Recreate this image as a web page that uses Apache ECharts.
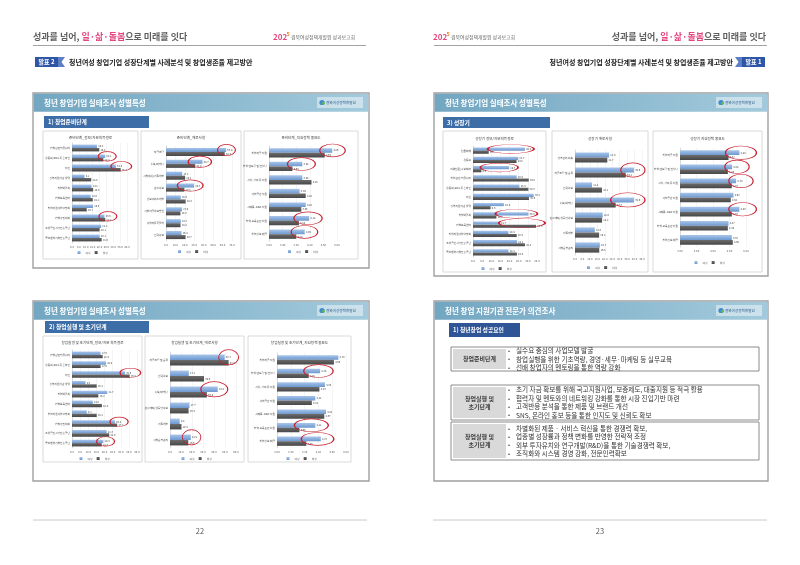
<!DOCTYPE html>
<html>
<head>
<meta charset="utf-8">
<script src="https://cdn.jsdelivr.net/npm/echarts@6/dist/echarts.min.js"></script>
<style>
  html, body { margin: 0; padding: 0; background: #fff; }
  #chart { width: 800px; height: 565px; }
</style>
</head>
<body>
<div id="chart"></div>
<script>
const FONT = '"Noto Sans CJK KR", "Noto Sans", sans-serif';

// 1) 창업준비단계
const prepInfoCats = ['창업관련커뮤니티', '유튜브/SNS 등 온라인', '지인', '정부지원기관 상담', '창업박람회', '창업보육센터', '창업지원사업설명회', '창업경진대회', '소상공인시장진흥공단', '중소벤처기업진흥공단'];
const prepInfoF = [18.2, 24.1, 31.9, 9.1, 14.2, 13.6, 15.3, 23.6, 21.2, 20.1];
const prepInfoM = [19.8, 22.8, 35.4, 14.0, 15.4, 15.1, 10.7, 24.2, 20.1, 21.6];
const prepInfoMarks = [1, 2, 7];

const prepHardCats = ['자금조달', '홍보/마케팅', '사업계획/기술개발', '판로확보', '정보서비스개발', '사업자금확보방안', '사업자등록절차', '인력확보'];
const prepHardF = [63.8, 38.7, 17.2, 29.7, 15.6, 17.0, 15.7, 16.4];
const prepHardM = [62.3, 31.0, 20.2, 19.5, 20.8, 15.3, 15.4, 20.7];
const prepHardMarks = [0, 1, 3];

const policyCats = ['창업자금 지원', '창업 멘토링 및 컨설팅', '시설, 장비 등 지원', '사업공간 지원', '시제품·R&D 지원', '창업 교육훈련 지원', '창업정보 제공'];
const prepPolicyF = [4.86, 3.98, 3.98, 3.90, 4.08, 4.18, 4.05];
const prepPolicyM = [4.64, 3.69, 4.25, 4.08, 3.95, 3.88, 3.80];
const prepPolicyMarks = [0, 1, 5, 6];

// 3) 성장기
const growInfoCats = ['언론매체', '유튜브', '지역신문/홍보책자', '창업관련 커뮤니티', '유튜브/SNS 등 온라인', '지인', '정부지원기관 상담', '창업박람회', '창업보육센터', '창업지원사업설명회', '소상공인시장진흥공단', '중소벤처기업진흥공단'];
const growInfoF = [28.4, 24.7, 19.7, 23.9, 25.4, 33.2, 16.9, 30.3, 14.7, 19.4, 24.1, 19.4];
const growInfoM = [8.6, 23.8, 4.6, 30.5, 30.3, 30.6, 9.6, 12.8, 34.5, 23.9, 28.4, 24.0];
const growInfoMarks = [0, 2, 7, 8];

const growHardCats = ['경영관리 미숙', '자금조달 및 운용', '인력확보', '홍보/마케팅', '판로개척/유통망확보', '기술개발', '사업운영관리'];
const growHardF = [22.9, 39.6, 11.4, 39.6, 18.6, 13.3, 16.7];
const growHardM = [21.7, 34.1, 18.1, 27.3, 18.2, 16.2, 16.3];
const growHardMarks = [1, 3];

const growPolicyF = [4.80, 4.58, 4.70, 4.62, 4.80, 4.47, 4.57];
const growPolicyM = [4.47, 4.45, 4.57, 4.54, 4.57, 4.45, 4.60];
const growPolicyMarks = [0, 1, 2, 4];

// 2) 창업실행 및 초기단계
const earlyInfoF = [17.6, 20.9, 32.6, 8.3, 21.7, 12.8, 9.1, 26.4, 21.3, 19.3];
const earlyInfoM = [18.9, 17.6, 35.5, 15.2, 16.2, 18.4, 15.2, 27.8, 22.9, 18.3];
const earlyInfoMarks = [2, 7, 9];

const earlyHardCats = ['자금조달 및 운용', '인력확보', '홍보/마케팅', '판로개척/유통망확보', '기술개발', '사업운영관리'];
const earlyHardF = [49.7, 17.1, 43.4, 17.7, 8.8, 18.9];
const earlyHardM = [53.3, 30.9, 33.5, 16.9, 10.4, 16.6];
const earlyHardMarks = [0, 2, 5];

const earlyPolicyF = [4.78, 4.25, 4.39, 4.11, 4.42, 4.11, 4.27];
const earlyPolicyM = [4.65, 3.92, 4.23, 4.01, 4.37, 3.65, 3.85];
const earlyPolicyMarks = [1, 5, 6];

// 전문가 의견조사 표
const tipPrep = ['실수요 중심의 사업모델 발굴', '창업실행을 위한 기초역량, 경영·세무·마케팅 등 실무교육', '선배 창업자의 멘토링을 통한 역량 강화'];
const tipEarly = ['초기 자금 확보를 위해 국고지원사업, 보증제도, 대출지원 등 적극 활용', '협력자 및 멘토와의 네트워킹 강화를 통한 시장 진입기반 마련', '고객반응 분석을 통한 제품 및 브랜드 개선', 'SNS, 온라인 홍보 등을 통한 인지도 및 신뢰도 확보'];
const tipGrow = ['차별화된 제품 · 서비스 혁신을 통한 경쟁력 확보,', '업종별 성장률과 정책 변화를 반영한 전략적 조정', '외부 투자유치와 연구개발(R&D)을 통한 기술경쟁력 확보,', '조직화와 시스템 경영 강화, 전문인력확보'];

const legendNames = ['여성', '남성'];

// 패널 배치
const panels = [
  { title: '준비단계_정보/자문획득경로', cats: prepInfoCats, f: prepInfoF, m: prepInfoM, marks: prepInfoMarks,
    box: [43, 131, 95, 128], grid: [72, 143, 55, 100], axis: [0, 40, 5], dec: 1, titleY: 138, legendY: 251, pad: 16, off: 3 },
  { title: '준비단계_애로사항', cats: prepHardCats, f: prepHardF, m: prepHardM, marks: prepHardMarks,
    box: [141, 131, 100, 128], grid: [166, 146, 66, 95], axis: [0, 70, 10], dec: 1, titleY: 138, legendY: 250, pad: 16, off: 1 },
  { title: '준비단계_지원정책 중요도', cats: policyCats, f: prepPolicyF, m: prepPolicyM, marks: prepPolicyMarks,
    box: [244, 131, 114, 128], grid: [269, 146, 68, 95], axis: [3, 5, 0.4], dec: 2, titleY: 138, legendY: 250, pad: 18, off: 4 },
  { title: '성장기 정보/자문획득경로', cats: growInfoCats, f: growInfoF, m: growInfoM, marks: growInfoMarks,
    box: [443, 131, 103, 141], grid: [473, 146, 64, 111], axis: [0, 35, 5], dec: 1, titleY: 139, legendY: 267, pad: 10, off: 4 },
  { title: '성장기 애로사항', cats: growHardCats, f: growHardF, m: growHardM, marks: growHardMarks,
    box: [552, 131, 96, 141], grid: [575, 150, 67, 105], axis: [0, 45, 5], dec: 1, titleY: 139, legendY: 266, pad: 16, off: 3 },
  { title: '성장기 지원정책 중요도', cats: policyCats, f: growPolicyF, m: growPolicyM, marks: growPolicyMarks,
    box: [653, 131, 109, 141], grid: [680, 148, 66, 99], axis: [3, 5, 0.5], dec: 2, titleY: 139, legendY: 261, pad: 20, off: 7 },
  { title: '창업실행 및 초기단계_정보/자문 획득경로', cats: prepInfoCats, f: earlyInfoF, m: earlyInfoM, marks: earlyInfoMarks,
    box: [43, 336, 99, 126], grid: [72, 350, 65, 98], axis: [0, 40, 5], dec: 1, titleY: 343, legendY: 457, pad: 16, off: 3 },
  { title: '창업실행 및 초기단계_애로사항', cats: earlyHardCats, f: earlyHardF, m: earlyHardM, marks: earlyHardMarks,
    box: [145, 336, 99, 126], grid: [170, 352, 66, 96], axis: [0, 60, 10], dec: 1, titleY: 343, legendY: 457, pad: 16, off: 2 },
  { title: '창업실행 및 초기단계_지원정책 중요도', cats: policyCats, f: earlyPolicyF, m: earlyPolicyM, marks: earlyPolicyMarks,
    box: [248, 336, 103, 126], grid: [277, 353, 69, 95], axis: [3, 5, 0.4], dec: 2, titleY: 343, legendY: 457, pad: 18, off: 4 }
];

const BLUE = { type: 'linear', x: 0, y: 0, x2: 0, y2: 1, colorStops: [{ offset: 0, color: '#a8c5ea' }, { offset: 1, color: '#6d98cf' }] };
const GRAY = { type: 'linear', x: 0, y: 0, x2: 0, y2: 1, colorStops: [{ offset: 0, color: '#6c6c6c' }, { offset: 1, color: '#474747' }] };
const BAND = { type: 'linear', x: 0, y: 0, x2: 1, y2: 0, colorStops: [{ offset: 0, color: '#72a6c1' }, { offset: 1, color: '#a3cadc' }] };

const g = [];
function rect(x, y, w, h, style, z) {
  return { type: 'rect', silent: true, z: z || 0, shape: { x, y, width: w, height: h }, style };
}
function text(x, y, t, size, color, opt) {
  opt = opt || {};
  const a = opt.align || 'left';
  return { type: 'text', silent: true, z: opt.z || 1, x, y, style: {
    text: t, fill: color, font: (opt.bold ? 'bold ' : '') + size + 'px ' + FONT,
    align: a, textAlign: a, verticalAlign: 'middle', textVerticalAlign: 'middle', lineHeight: opt.lh || size * 1.3
  } };
}
function line(x1, y1, x2, y2, color, w) {
  return { type: 'line', silent: true, shape: { x1, y1, x2, y2 }, style: { stroke: color, lineWidth: w } };
}

// 페이지 머리글
function slogan(x, align) {
  return { type: 'text', silent: true, x, y: 37, style: {
    text: '{a|성과를 넘어, }{b|일·삶·돌봄}{a|으로 미래를 잇다}', align, textAlign: align,
    verticalAlign: 'middle', textVerticalAlign: 'middle',
    rich: {
      a: { fill: '#5f5f5f', color: '#5f5f5f', fontSize: 9, fontFamily: FONT, fontWeight: 'bold' },
      b: { fill: '#e4467f', color: '#e4467f', fontSize: 9, fontFamily: FONT, fontWeight: 'bold' }
    }
  } };
}
function logo(x) {
  g.push(text(x, 37, '202', 8, '#e4467f', { bold: true }));
  g.push(text(x + 13.5, 34, '5', 5.5, '#f0882a', { bold: true }));
  g.push(text(x + 18, 37.5, '경북여성정책개발원 성과보고회', 4.9, '#666'));
}
g.push(slogan(33, 'left'));
logo(273);
g.push(line(33, 45.5, 366, 45.5, '#8c8c8c', 0.8));
g.push(slogan(766, 'right'));
logo(433);
g.push(line(434, 45.5, 767, 45.5, '#8c8c8c', 0.8));

// 발표 배지
g.push(rect(35, 57, 23, 10, { fill: '#2f56a6' }));
g.push({ type: 'polygon', silent: true, shape: { points: [[58, 57], [65, 57], [61.5, 62], [65, 67], [58, 67]] }, style: { fill: '#5d80c4' } });
g.push(text(46.5, 62, '발표 2', 6, '#fff', { bold: true, align: 'center' }));
g.push(text(69, 62, '청년여성 창업기업 성장단계별 사례분석 및 창업생존율 제고방안', 7, '#222', { bold: true }));
g.push(rect(742, 57, 23, 10, { fill: '#2f56a6' }));
g.push({ type: 'polygon', silent: true, shape: { points: [[735, 57], [742, 57], [742, 67], [735, 67], [738.5, 62]] }, style: { fill: '#5d80c4' } });
g.push(text(753.5, 62, '발표 1', 6, '#fff', { bold: true, align: 'center' }));
g.push(text(733, 62, '청년여성 창업기업 성장단계별 사례분석 및 창업생존율 제고방안', 7, '#222', { bold: true, align: 'right' }));

// 슬라이드
function slide(x, y, w, h, title) {
  g.push(rect(x, y, w, h, { fill: '#fff', stroke: '#a0a0a0', lineWidth: 1.4 }));
  g.push(rect(x + 0.7, y + 0.7, w - 1.4, 18, { fill: BAND }));
  g.push(text(x + 11, y + 9.7, title, 7.5, '#fff', { bold: true }));
  g.push(rect(x + w - 52, y + 4, 46, 11, { fill: 'rgba(255,255,255,0.45)' }));
  g.push({ type: 'circle', silent: true, shape: { cx: x + w - 47, cy: y + 9.5, r: 2.6 }, style: { fill: '#3d8ccf' } });
  g.push({ type: 'circle', silent: true, shape: { cx: x + w - 45.5, cy: y + 10.5, r: 1.4 }, style: { fill: '#6bb84a' } });
  g.push(text(x + w - 43, y + 9.7, '경북여성정책개발원', 3.6, '#2d5d8a'));
}
function subhead(x, y, w, h, t, color) {
  g.push(rect(x, y, w, h, { fill: color || '#3d6da6' }));
  g.push(text(x + 4, y + h / 2, t, 5.8, '#fff', { bold: true }));
}
slide(33, 93, 336, 175, '청년 창업기업 실태조사 성별특성');
subhead(44, 116, 105, 12, '1) 창업준비단계');
slide(434, 93, 334, 183, '청년 창업기업 실태조사 성별특성');
subhead(443, 117, 107, 11, '3) 성장기');
slide(33, 301, 336, 180, '청년 창업기업 실태조사 성별특성');
subhead(45, 321, 104, 12, '2) 창업실행 및 초기단계');
slide(434, 301, 334, 180, '청년 창업 지원기관 전문가 의견조사');
subhead(449, 323, 71, 14, '1) 청년창업 성공요인', '#2f5597');

// 전문가 의견 표
const tableRows = [
  { label: '창업준비단계', tips: tipPrep, y: 347, h: 24 },
  { label: '창업실행 및\n초기단계', tips: tipEarly, y: 385, h: 35 },
  { label: '창업실행 및\n초기단계', tips: tipGrow, y: 422, h: 38 }
];
tableRows.forEach(r => {
  g.push(rect(451, r.y, 308, r.h, { fill: '#fff', stroke: '#7f7f7f', lineWidth: 0.9 }));
  g.push(rect(453, r.y + 2, 53, r.h - 4, { fill: '#d9d9d9' }));
  g.push(text(479.5, r.y + r.h / 2, r.label, 6, '#404040', { bold: true, align: 'center', lh: 8 }));
  const start = r.y + r.h / 2 - (r.tips.length - 1) * 8.4 / 2;
  r.tips.forEach((t, j) => {
    g.push(text(508, start + j * 8.4, '•', 6, '#333'));
    g.push(text(516, start + j * 8.4, t, 6.6, '#333'));
  });
});

// 쪽 번호
g.push(line(33, 520, 367, 520, '#bdbdbd', 0.8));
g.push(line(433, 520, 767, 520, '#bdbdbd', 0.8));
g.push(text(200, 531, '22', 7.5, '#555', { align: 'center' }));
g.push(text(600, 531, '23', 7.5, '#555', { align: 'center' }));

// 차트
const grids = [], xAxes = [], yAxes = [], series = [], legends = [];
panels.forEach((p, i) => {
  const [bx, by, bw, bh] = p.box;
  const [gx, gy, gw, gh] = p.grid;
  g.push(rect(bx, by, bw, bh, { fill: '#fff', stroke: '#d0d0d0', lineWidth: 0.8 }));
  g.push(text(bx + bw / 2, p.titleY, p.title, 3.6, '#404040', { align: 'center' }));

  grids.push({ left: gx, top: gy, width: gw, height: gh });
  xAxes.push({
    gridIndex: i, type: 'value', min: p.axis[0], max: p.axis[1], interval: p.axis[2],
    axisLine: { show: false }, axisTick: { show: false },
    splitLine: { show: true, lineStyle: { color: '#e8e8e8', width: 0.5 } },
    axisLabel: { fontSize: 2.8, color: '#595959', margin: 3, fontFamily: FONT, formatter: v => v.toFixed(p.dec) }
  });
  yAxes.push({
    gridIndex: i, type: 'category', data: p.cats, inverse: true,
    axisTick: { show: false },
    axisLine: { lineStyle: { color: '#bfbfbf', width: 0.5 } },
    axisLabel: { fontSize: 2.7, color: '#404040', margin: 2, fontFamily: FONT }
  });

  const px = gw / (p.axis[1] - p.axis[0]);
  const row = gh / p.cats.length;
  const markData = p.marks.map(k => {
    const lo = Math.min(p.f[k], p.m[k]), hi = Math.max(p.f[k], p.m[k]);
    return { coord: [(lo + hi) / 2, p.cats[k]], symbolSize: [Math.max((hi - lo) * px + p.pad, 18), row * 0.95] };
  });
  const lbl = { show: true, position: 'right', distance: 1.2, fontSize: 2.6, color: '#404040', fontFamily: FONT,
    formatter: d => d.value.toFixed(p.dec) };
  series.push({
    type: 'bar', name: legendNames[0], xAxisIndex: i, yAxisIndex: i, data: p.f,
    barGap: '0%', barCategoryGap: '32%', itemStyle: { color: BLUE }, label: lbl,
    markPoint: {
      silent: true, symbol: 'circle', symbolOffset: [p.off, 0], data: markData,
      itemStyle: { color: 'rgba(0,0,0,0)', borderColor: '#c8202f', borderWidth: 0.9 },
      label: { show: false }
    }
  });
  series.push({
    type: 'bar', name: legendNames[1], xAxisIndex: i, yAxisIndex: i, data: p.m,
    barGap: '0%', barCategoryGap: '32%', itemStyle: { color: GRAY }, label: lbl
  });
  legends.push({
    data: legendNames, left: bx + bw / 2 - 13, top: p.legendY, orient: 'horizontal',
    icon: 'rect', itemWidth: 3, itemHeight: 3, itemGap: 4, padding: 0, selectedMode: false,
    textStyle: { fontSize: 2.8, color: '#595959', fontFamily: FONT }
  });
});

const chart = echarts.init(document.getElementById('chart'));
chart.setOption({
  backgroundColor: '#fff',
  animation: false,
  textStyle: { fontFamily: FONT },
  graphic: { elements: g },
  grid: grids,
  xAxis: xAxes,
  yAxis: yAxes,
  legend: legends,
  series: series
});
</script>
</body>
</html>
